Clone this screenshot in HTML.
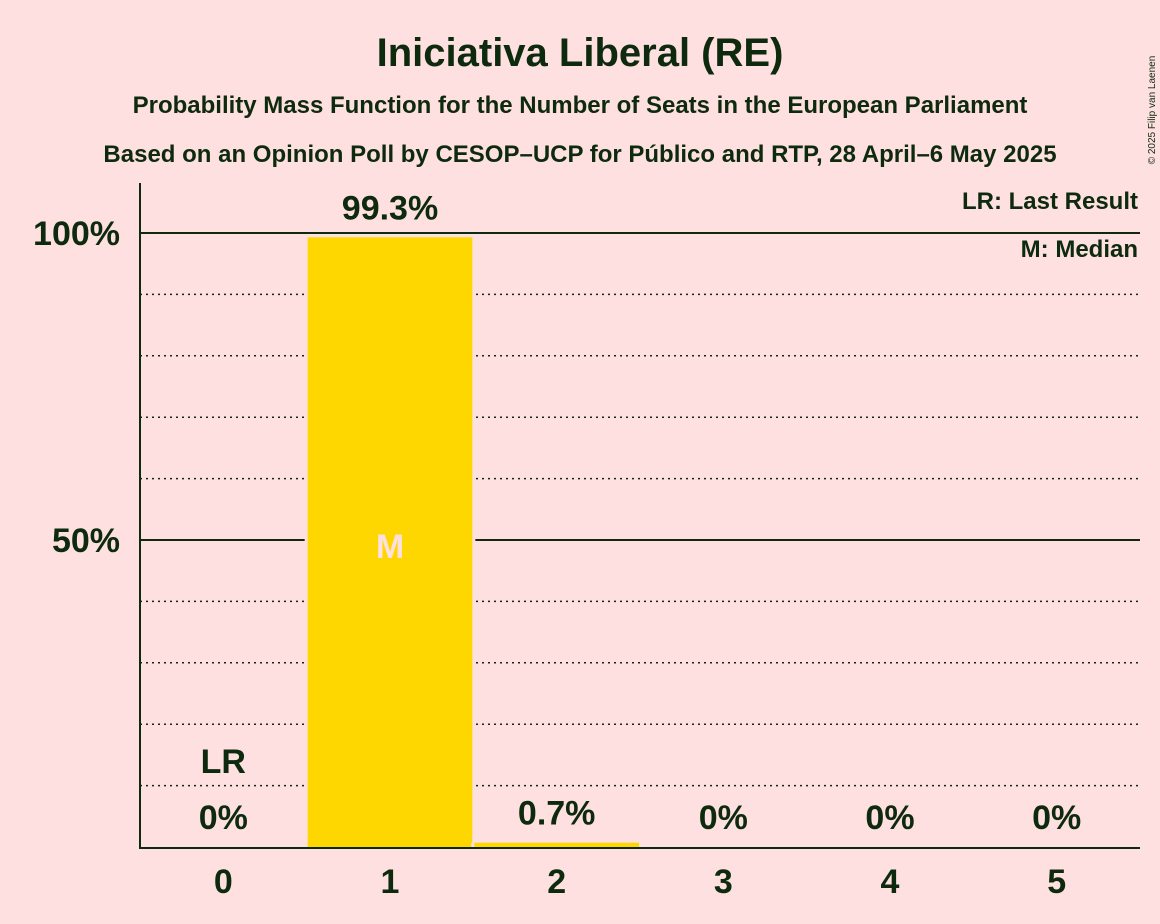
<!DOCTYPE html>
<html><head><meta charset="utf-8"><style>
body{margin:0;background:#FFE0E0;}
svg{display:block;font-family:"Liberation Sans",sans-serif;}
</style></head><body>
<svg id="chart" width="1160" height="924" xmlns="http://www.w3.org/2000/svg">
<rect width="1160" height="924" fill="#FFE0E0"/>
<text x="580" y="66" text-anchor="middle" font-size="40" font-weight="bold" fill="#0E2A0E">Iniciativa Liberal (RE)</text>
<text x="580" y="113" text-anchor="middle" font-size="24" font-weight="bold" fill="#0E2A0E">Probability Mass Function for the Number of Seats in the European Parliament</text>
<text x="580" y="162" text-anchor="middle" font-size="24" font-weight="bold" fill="#0E2A0E">Based on an Opinion Poll by CESOP–UCP for Público and RTP, 28 April–6 May 2025</text>
<text x="1155" y="110" font-size="10" fill="#0E2A0E" transform="rotate(-90 1155 110)" text-anchor="middle">© 2025 Filip van Laenen</text>
<text x="1138" y="209" text-anchor="end" font-size="24" font-weight="bold" fill="#0E2A0E">LR: Last Result</text>
<text x="1138" y="257" text-anchor="end" font-size="24" font-weight="bold" fill="#0E2A0E">M: Median</text>
<g id="grid"></g><g id="bars"></g><g id="labels"></g>
<line x1="140" y1="183" x2="140" y2="848" stroke="#0E2A0E" stroke-width="2"/>
<line x1="139" y1="848" x2="1140" y2="848" stroke="#0E2A0E" stroke-width="2"/>
</svg>
<script>
const categories=[0,1,2,3,4,5];
const values=[0,99.3,0.7,0,0,0];
const valueLabels=["0%","99.3%","0.7%","0%","0%","0%"];
const yTicks=[50,100];
const yTickLabels=["50%","100%"];
const lastResult=0, median=1;
const NS="http://www.w3.org/2000/svg";
const x0=140,x1=1140,yBase=847,yTop=233;
const bw=(x1-x0)/categories.length;
const xs=i=>x0+bw*i;
const ys=v=>yBase-(yBase-yTop)*v/100;
function mk(t,a,p){const e=document.createElementNS(NS,t);for(const k in a)e.setAttribute(k,a[k]);document.getElementById(p).appendChild(e);return e;}
for(let g=10;g<=100;g+=10){
  const solid=g%50===0;
  const l=mk('line',{x1:x0,x2:x1,y1:ys(g),y2:ys(g),stroke:'#0E2A0E','stroke-width':solid?2:1.5,'stroke-dasharray':solid?'':'2,4'},'grid');
  
  
}
yTicks.forEach((t,i)=>{
  const e=mk('text',{x:120,y:ys(t)+12,'text-anchor':'end','font-size':34,'font-weight':'bold',fill:'#0E2A0E'},'labels');
  e.textContent=yTickLabels[i];
  
  
});
categories.forEach((c,i)=>{
  const v=values[i];
  const cx=xs(i)+bw/2;
  if(v>0){
    const halo=mk('rect',{x:xs(i)+1-3,y:ys(v),width:bw-2+6,height:yBase-ys(v),fill:'#FFE0E0'},'bars');
    
    
    const r=mk('rect',{x:xs(i)+1,y:ys(v),width:bw-2,height:yBase-ys(v),fill:'#FFD700'},'bars');
    
    
  }
  const ly=v>10?ys(v)-18:Math.min(ys(v),yBase)-18;
  const t=mk('text',{x:cx,y:ly,'text-anchor':'middle','font-size':34,'font-weight':'bold',fill:'#0E2A0E'},'labels');
  t.textContent=valueLabels[i];
  
  
  const xl=mk('text',{x:cx,y:893,'text-anchor':'middle','font-size':34,'font-weight':'bold',fill:'#0E2A0E'},'labels');
  xl.textContent=c;
  
  
  if(c===lastResult){
    const lr=mk('text',{x:cx,y:ly-56,'text-anchor':'middle','font-size':34,'font-weight':'bold',fill:'#0E2A0E'},'labels');
    lr.textContent='LR';
    
    
  }
  if(c===median){
    const m=mk('text',{x:cx,y:ys(50)+18,'text-anchor':'middle','font-size':34,'font-weight':'bold',fill:'#FFE0E0'},'labels');
    m.textContent='M';
    
    
  }
});
</script>
</body></html>
